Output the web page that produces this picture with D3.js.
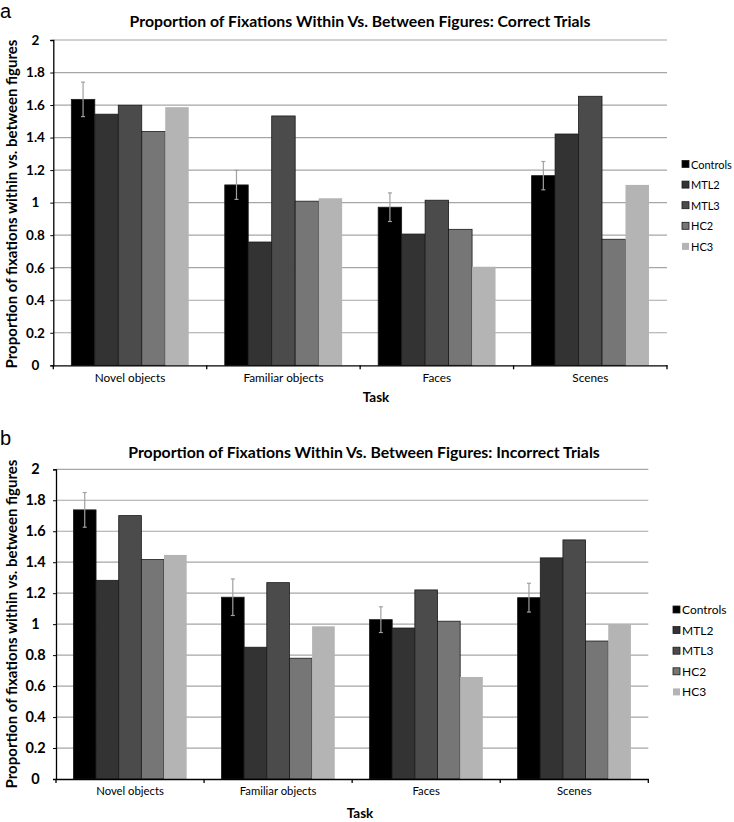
<!DOCTYPE html>
<html><head><meta charset="utf-8">
<script src="https://cdn.jsdelivr.net/npm/d3@7"></script>
<style>body{margin:0;background:#fff;} svg{display:block;font-family:Lato,"Open Sans",sans-serif;}</style>
</head><body><svg id="c" width="734" height="822"></svg>
<script>
const tasks = ["Novel objects","Familiar objects","Faces","Scenes"];
const groups = ["Controls","MTL2","MTL3","HC2","HC3"];
const colors = ["#000000","#333333","#4b4b4b","#767676","#b4b4b4"];
const yTicks = [0,0.2,0.4,0.6,0.8,1,1.2,1.4,1.6,1.8,2];
// Correct trials: rows = tasks, cols = groups
const correctValues = [
  [1.635,1.544,1.599,1.437,1.587],
  [1.109,0.758,1.533,1.009,1.027],
  [0.972,0.807,1.015,0.836,0.606],
  [1.166,1.422,1.654,0.775,1.109]
];
const correctErr = [0.106,0.089,0.088,0.087];
const incorrectValues = [
  [1.738,1.283,1.701,1.417,1.447],
  [1.174,0.851,1.268,0.780,0.986],
  [1.029,0.975,1.221,1.019,0.659],
  [1.171,1.428,1.544,0.891,1.001]
];
const incorrectErr = [0.112,0.118,0.083,0.093];
const titleA = "Proportion of Fixations Within Vs. Between Figures: Correct Trials";
const titleB = "Proportion of Fixations Within Vs. Between Figures: Incorrect Trials";
const yLabel = "Proportion of fixations within vs. between figures";
const xLabel = "Task";

const svg = d3.select("#c");

function panel(cfg){
  const g = svg.append("g");
  const x = d3.scaleBand().domain(tasks).range([cfg.left,cfg.right]).paddingInner(0.235).paddingOuter(0.1175);
  const xs = d3.scaleBand().domain(groups).range([0,x.bandwidth()]);
  const y = d3.scaleLinear().domain([0,2]).range([cfg.y0,cfg.y2]);
  // gridlines
  g.selectAll(".grid").data(yTicks.filter(d=>d>0)).join("line")
    .attr("x1",cfg.left).attr("x2",cfg.right)
    .attr("y1",d=>y(d)).attr("y2",d=>y(d))
    .attr("stroke","#a6a6a6").attr("stroke-width",1.2);
  // bars
  const rows = tasks.map((t,i)=>({t,vals:cfg.values[i],err:cfg.err[i]}));
  const tg = g.selectAll(".task").data(rows).join("g").attr("transform",d=>`translate(${x(d.t)},0)`);
  tg.selectAll("rect").data(d=>d.vals.map((v,j)=>({v,j}))).join("rect")
    .attr("x",d=>xs(groups[d.j])).attr("width",xs.bandwidth())
    .attr("y",d=>y(d.v)).attr("height",d=>cfg.y0-y(d.v))
    .attr("fill",d=>colors[d.j])
    .attr("stroke",d=>d.j<4?"#1a1a1a":"none").attr("stroke-width",0.8);
  // error bars on controls
  const eb = tg.append("g").attr("stroke","#a0a0a0").attr("stroke-width",1.2);
  const cx = xs("Controls")+xs.bandwidth()/2;
  eb.append("line").attr("x1",cx).attr("x2",cx).attr("y1",d=>y(d.vals[0]+d.err)).attr("y2",d=>y(d.vals[0]-d.err));
  eb.append("line").attr("x1",cx-2).attr("x2",cx+2).attr("y1",d=>y(d.vals[0]+d.err)).attr("y2",d=>y(d.vals[0]+d.err));
  eb.append("line").attr("x1",cx-2).attr("x2",cx+2).attr("y1",d=>y(d.vals[0]-d.err)).attr("y2",d=>y(d.vals[0]-d.err));
  // y axis
  const ya = g.append("g").attr("transform",`translate(${cfg.left},0)`)
    .call(d3.axisLeft(y).tickValues(yTicks).tickFormat(d3.format("~g")).tickSize(3).tickPadding(0));
  ya.select(".domain").attr("stroke","#000").attr("stroke-width",1.3);
  ya.selectAll(".tick line").attr("stroke","#000");
  ya.selectAll(".tick text").attr("text-anchor","middle").attr("x",cfg.tickX-cfg.left)
    .attr("font-family","Lato").attr("font-weight","bold").attr("font-size",cfg.tickFs).attr("fill","#000");
  // x axis
  const xa = g.append("g").attr("transform",`translate(0,${cfg.y0})`)
    .call(d3.axisBottom(x).tickSize(0).tickPadding(cfg.catPad));
  xa.select(".domain").attr("stroke","#000").attr("stroke-width",1.3);
  xa.selectAll(".tick text").attr("font-family","Lato").attr("font-size",cfg.catFs).attr("fill","#000");
  const bounds = tasks.map(t=>x(t)-x.step()*0.1175).concat([cfg.right]);
  g.selectAll(".xt").data(bounds).join("line").attr("x1",d=>d).attr("x2",d=>d)
    .attr("y1",cfg.y0).attr("y2",cfg.y0+4).attr("stroke","#000").attr("stroke-width",1.3);
  // titles
  g.append("text").attr("x",cfg.titleX).attr("y",cfg.titleY).attr("text-anchor","middle")
    .attr("font-weight","bold").attr("font-size",cfg.titleFs).text(cfg.title);
  g.append("text").attr("x",cfg.xLabX).attr("y",cfg.xLabY).attr("text-anchor","middle")
    .attr("font-weight","bold").attr("font-size",13.5).text(xLabel);
  g.append("text").attr("transform",`translate(${cfg.yLabX},${cfg.yLabY}) rotate(-90)`).attr("text-anchor","middle")
    .attr("font-weight","bold").attr("font-size",cfg.yLabFs).text(yLabel);
  g.append("text").attr("x",0).attr("y",cfg.panelY).attr("font-family","Liberation Sans")
    .attr("font-size",20).text(cfg.panel);
  // legend
  const lg = g.append("g").attr("transform",`translate(${cfg.legX},${cfg.legY})`);
  const li = lg.selectAll("g").data(groups).join("g").attr("transform",(d,i)=>`translate(0,${i*cfg.legStep})`);
  li.append("rect").attr("x",0).attr("y",-4).attr("width",7).attr("height",7)
    .attr("fill",(d,i)=>colors[i]).attr("stroke",(d,i)=>i<4?"#1a1a1a":"none").attr("stroke-width",0.8);
  li.append("text").attr("x",9).attr("y",4).attr("font-size",cfg.legFs).text(d=>d);
}

panel({left:53.3,right:667,y0:365.3,y2:40,values:correctValues,err:correctErr,tickX:35.5,tickFs:13.5,catFs:11.8,catPad:8,
  title:titleA,titleX:360,titleY:26.5,titleFs:15.8,xLabX:376,xLabY:402,yLabX:17,yLabY:204,yLabFs:15,panel:"a",panelY:18,
  legX:682,legY:164.5,legStep:20.6,legFs:11});
panel({left:56,right:648.3,y0:779,y2:469.3,values:incorrectValues,err:incorrectErr,tickX:35.5,tickFs:14.5,catFs:11.3,catPad:8,
  title:titleB,titleX:364,titleY:458,titleFs:15.8,xLabX:360,xLabY:818,yLabX:17,yLabY:624,yLabFs:15,panel:"b",panelY:445,
  legX:673,legY:610,legStep:20.6,legFs:12});
</script></body></html>
